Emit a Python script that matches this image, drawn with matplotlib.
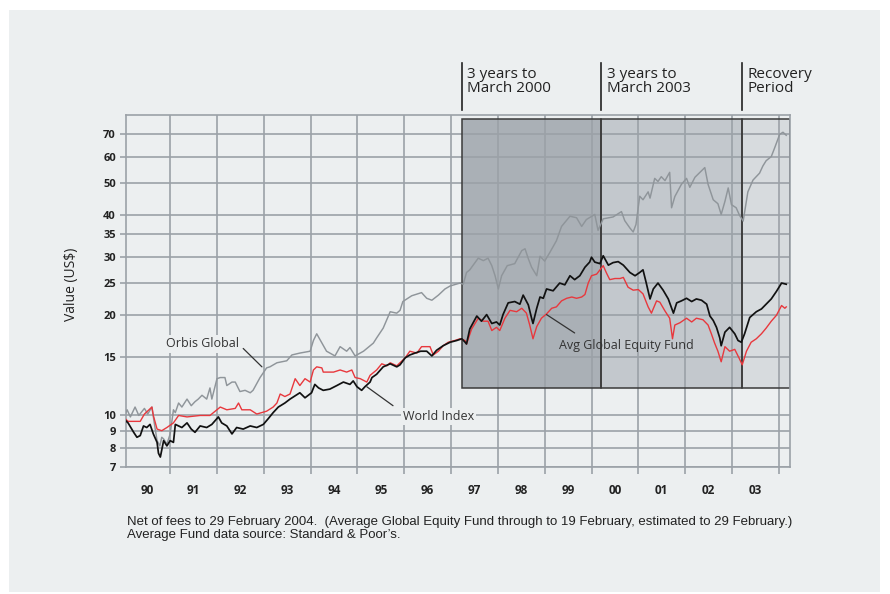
#!/usr/bin/env python3

import matplotlib
matplotlib.use("Agg")
import matplotlib.pyplot as plt
from matplotlib.patches import Rectangle
from matplotlib import font_manager
from matplotlib.ticker import FixedLocator, NullLocator

# values (decimal year, value in US$)
orbis = [
    (1990.00, 9.8), (1990.08, 10.4), (1990.15, 9.9), (1990.25, 10.6), (1990.33, 10.0),
    (1990.45, 10.5), (1990.52, 10.1), (1990.61, 10.6), (1990.66, 9.5), (1990.72, 8.4),
    (1990.78, 8.1), (1990.82, 8.6), (1990.86, 8.5), (1990.93, 8.2), (1991.00, 8.8),
    (1991.07, 10.4), (1991.11, 10.2), (1991.18, 10.9), (1991.25, 10.6), (1991.36, 11.2),
    (1991.45, 10.7), (1991.53, 11.0), (1991.60, 11.2), (1991.68, 11.5), (1991.78, 11.2),
    (1991.85, 12.1), (1991.89, 11.2), (1992.00, 12.9), (1992.07, 13.0), (1992.17, 13.0),
    (1992.21, 12.3), (1992.32, 12.6), (1992.39, 12.6), (1992.49, 11.8), (1992.60, 11.9),
    (1992.71, 11.7), (1992.77, 11.9), (1992.92, 13.0), (1993.06, 13.9), (1993.13, 14.0),
    (1993.28, 14.4), (1993.49, 14.6), (1993.60, 15.2), (1993.77, 15.4), (1993.99, 15.6),
    (1994.06, 16.8), (1994.13, 17.6), (1994.20, 16.9), (1994.34, 15.6), (1994.52, 15.1),
    (1994.63, 16.1), (1994.77, 15.6), (1994.84, 16.0), (1994.95, 15.1), (1995.13, 15.6),
    (1995.34, 16.5), (1995.41, 17.1), (1995.55, 18.3), (1995.70, 20.5), (1995.84, 20.3),
    (1995.91, 20.7), (1995.97, 22.0), (1996.16, 22.9), (1996.37, 23.4), (1996.48, 22.5),
    (1996.59, 22.2), (1996.73, 23.0), (1996.87, 24.0), (1996.98, 24.5), (1997.19, 25.0),
    (1997.26, 24.8), (1997.33, 26.9), (1997.40, 27.4), (1997.58, 29.7), (1997.69, 29.2),
    (1997.79, 29.7), (1997.87, 28.2), (1997.94, 26.3), (1998.01, 24.0), (1998.08, 26.3),
    (1998.20, 28.2), (1998.36, 28.6), (1998.51, 31.3), (1998.58, 31.7), (1998.65, 29.6),
    (1998.72, 27.9), (1998.83, 26.3), (1998.90, 30.1), (1999.00, 29.1), (1999.11, 30.9),
    (1999.25, 33.5), (1999.36, 37.0), (1999.54, 39.7), (1999.68, 39.3), (1999.79, 37.0),
    (1999.89, 38.8), (2000.07, 40.2), (2000.14, 36.0), (2000.25, 39.0), (2000.46, 39.5),
    (2000.64, 41.0), (2000.71, 38.5), (2000.82, 36.6), (2000.89, 35.6), (2000.95, 37.5),
    (2001.03, 45.6), (2001.10, 44.5), (2001.21, 47.0), (2001.25, 45.0), (2001.35, 51.6),
    (2001.42, 50.5), (2001.49, 52.2), (2001.57, 50.8), (2001.67, 53.8), (2001.71, 42.1),
    (2001.78, 45.5), (2001.92, 49.5), (2002.03, 51.6), (2002.10, 48.5), (2002.21, 52.0),
    (2002.35, 54.4), (2002.42, 55.6), (2002.49, 49.5), (2002.60, 44.5), (2002.70, 43.3),
    (2002.77, 40.2), (2002.85, 44.0), (2002.92, 48.3), (2002.99, 43.0), (2003.09, 42.1),
    (2003.16, 40.0), (2003.24, 38.4), (2003.34, 47.0), (2003.45, 51.0), (2003.59, 53.5),
    (2003.66, 56.2), (2003.73, 58.3), (2003.84, 60.0), (2003.91, 63.6), (2004.02, 70.0),
    (2004.09, 71.0), (2004.16, 69.5),
]

world = [
    (1990.00, 9.8), (1990.10, 9.5), (1990.22, 8.9), (1990.29, 8.6), (1990.36, 8.7),
    (1990.43, 9.3), (1990.50, 9.2), (1990.57, 9.4), (1990.64, 8.8), (1990.72, 8.3),
    (1990.75, 7.7), (1990.79, 7.5), (1990.86, 8.4), (1990.93, 8.1), (1991.00, 8.4),
    (1991.07, 8.3), (1991.11, 9.4), (1991.18, 9.3), (1991.25, 9.2), (1991.36, 9.5),
    (1991.45, 9.1), (1991.53, 8.9), (1991.64, 9.3), (1991.78, 9.2), (1991.89, 9.4),
    (1992.03, 9.9), (1992.10, 9.5), (1992.21, 9.3), (1992.32, 8.8), (1992.42, 9.2),
    (1992.56, 9.1), (1992.71, 9.3), (1992.85, 9.2), (1992.99, 9.4), (1993.10, 9.8),
    (1993.20, 10.2), (1993.31, 10.6), (1993.45, 10.9), (1993.56, 11.2), (1993.77, 11.7),
    (1993.88, 11.3), (1994.02, 11.7), (1994.09, 12.4), (1994.17, 12.1), (1994.27, 11.9),
    (1994.41, 12.0), (1994.56, 12.3), (1994.70, 12.6), (1994.84, 12.4), (1994.91, 12.7),
    (1994.99, 12.2), (1995.09, 11.9), (1995.16, 12.2), (1995.27, 12.6), (1995.31, 13.0),
    (1995.41, 13.3), (1995.55, 14.0), (1995.70, 14.3), (1995.84, 14.0), (1995.91, 14.2),
    (1996.02, 14.9), (1996.12, 15.2), (1996.23, 15.4), (1996.35, 15.6), (1996.48, 15.6),
    (1996.59, 15.1), (1996.69, 15.7), (1996.83, 16.2), (1996.98, 16.6), (1997.12, 16.8),
    (1997.23, 17.0), (1997.30, 16.6), (1997.33, 16.4), (1997.40, 18.2), (1997.55, 19.9),
    (1997.65, 19.2), (1997.76, 20.1), (1997.87, 18.9), (1997.97, 19.1), (1998.04, 18.7),
    (1998.11, 20.1), (1998.22, 21.8), (1998.36, 22.0), (1998.47, 21.6), (1998.54, 23.0),
    (1998.65, 21.5), (1998.72, 19.6), (1998.75, 18.9), (1998.83, 21.0), (1998.90, 22.7),
    (1998.97, 22.5), (1999.04, 24.0), (1999.18, 23.7), (1999.32, 25.0), (1999.43, 24.7),
    (1999.54, 26.3), (1999.64, 25.6), (1999.75, 26.3), (1999.86, 27.9), (1999.96, 28.9),
    (2000.00, 29.9), (2000.07, 28.9), (2000.18, 28.6), (2000.25, 30.2), (2000.36, 28.3),
    (2000.46, 28.8), (2000.57, 29.0), (2000.68, 28.3), (2000.82, 26.9), (2000.93, 26.3),
    (2001.03, 26.9), (2001.10, 27.4), (2001.17, 25.0), (2001.25, 22.4), (2001.32, 24.0),
    (2001.42, 25.0), (2001.53, 23.8), (2001.64, 22.4), (2001.75, 20.3), (2001.82, 21.8),
    (2001.92, 22.1), (2002.03, 22.5), (2002.14, 22.0), (2002.24, 22.4), (2002.35, 22.2),
    (2002.46, 21.6), (2002.53, 19.9), (2002.60, 19.3), (2002.67, 18.4), (2002.74, 17.1),
    (2002.77, 16.2), (2002.85, 17.8), (2002.95, 18.4), (2003.06, 17.6), (2003.13, 16.8),
    (2003.20, 16.6), (2003.27, 17.6), (2003.38, 19.7), (2003.52, 20.5), (2003.63, 20.9),
    (2003.73, 21.6), (2003.84, 22.4), (2003.95, 23.6), (2004.06, 25.0), (2004.16, 24.8),
]

avg_fund = [
    (1990.00, 9.9), (1990.10, 9.6), (1990.22, 9.6), (1990.36, 9.6), (1990.45, 10.1),
    (1990.61, 10.6), (1990.64, 10.0), (1990.72, 9.1), (1990.82, 9.0), (1990.93, 9.2),
    (1991.07, 9.5), (1991.18, 10.0), (1991.36, 9.9), (1991.64, 10.0), (1991.85, 10.0),
    (1992.00, 10.4), (1992.07, 10.6), (1992.21, 10.4), (1992.39, 10.5), (1992.46, 10.9),
    (1992.53, 10.4), (1992.71, 10.4), (1992.85, 10.1), (1993.06, 10.3), (1993.20, 10.6),
    (1993.28, 10.9), (1993.35, 11.6), (1993.45, 11.4), (1993.56, 11.6), (1993.67, 12.9),
    (1993.77, 12.3), (1993.88, 12.9), (1993.99, 12.6), (1994.06, 13.7), (1994.13, 14.0),
    (1994.24, 13.9), (1994.27, 13.5), (1994.49, 13.5), (1994.63, 13.7), (1994.77, 13.5),
    (1994.88, 13.7), (1994.95, 13.0), (1995.06, 12.9), (1995.20, 12.6), (1995.27, 13.2),
    (1995.41, 13.7), (1995.52, 14.3), (1995.63, 14.1), (1995.70, 14.4), (1995.84, 14.1),
    (1996.02, 14.9), (1996.12, 15.6), (1996.27, 15.4), (1996.37, 16.1), (1996.55, 16.1),
    (1996.62, 15.2), (1996.73, 15.6), (1996.83, 16.2), (1996.94, 16.6), (1997.08, 16.8),
    (1997.19, 17.0), (1997.30, 16.8), (1997.33, 16.4), (1997.44, 18.2), (1997.58, 19.6),
    (1997.69, 19.2), (1997.79, 19.2), (1997.87, 18.0), (1997.97, 18.4), (1998.04, 18.0),
    (1998.15, 19.6), (1998.26, 20.7), (1998.40, 20.5), (1998.51, 21.0), (1998.61, 20.3),
    (1998.68, 18.7), (1998.75, 17.0), (1998.83, 18.5), (1998.93, 19.6), (1999.04, 20.2),
    (1999.15, 21.0), (1999.25, 21.2), (1999.36, 22.1), (1999.47, 22.5), (1999.58, 22.7),
    (1999.68, 22.5), (1999.79, 22.7), (1999.86, 23.1), (1999.93, 25.0), (2000.00, 26.3),
    (2000.11, 26.6), (2000.25, 28.2), (2000.32, 26.8), (2000.39, 25.6), (2000.50, 25.8),
    (2000.61, 25.8), (2000.68, 26.0), (2000.78, 24.3), (2000.89, 23.8), (2001.00, 23.9),
    (2001.10, 23.2), (2001.21, 21.2), (2001.28, 20.3), (2001.39, 22.1), (2001.46, 21.9),
    (2001.57, 20.6), (2001.67, 19.6), (2001.73, 17.0), (2001.78, 18.7), (2001.89, 19.0),
    (2002.03, 19.6), (2002.14, 19.1), (2002.24, 19.6), (2002.38, 19.4), (2002.49, 18.7),
    (2002.56, 17.6), (2002.63, 16.5), (2002.70, 15.6), (2002.77, 14.5), (2002.85, 16.1),
    (2002.95, 15.6), (2003.06, 15.8), (2003.15, 14.9), (2003.22, 14.2), (2003.31, 15.6),
    (2003.41, 16.6), (2003.52, 17.0), (2003.63, 17.6), (2003.73, 18.3), (2003.84, 19.2),
    (2003.95, 20.0), (2004.06, 21.4), (2004.13, 21.0), (2004.16, 21.2),
]

y_ticks = [7, 8, 9, 10, 15, 20, 25, 30, 35, 40, 50, 60, 70]
years = list(range(1990, 2004))
year_labels = ["90", "91", "92", "93", "94", "95", "96", "97", "98", "99",
               "00", "01", "02", "03"]
period_edges = [1997.23, 2000.21, 2003.22, 2004.25]
period_labels = ["3 years to\nMarch 2000", "3 years to\nMarch 2003", "Recovery\nPeriod"]

BG = "#eceff0"
GRID = "#9ba1a7"
period_fill = ["#aab0b6", "#c3c8cd", "#d7dbde"]

installed = {f.name for f in font_manager.fontManager.ttflist}
main_font = "Open Sans" if "Open Sans" in installed else "DejaVu Sans"
note_font = "Liberation Sans Narrow" if "Liberation Sans Narrow" in installed else "Liberation Sans"
plt.rcParams["font.family"] = [main_font, "DejaVu Sans"]

fig = plt.figure(figsize=(8.9, 5.94), dpi=100)
fig.patch.set_facecolor("white")
fig.patches.append(Rectangle((9 / 890, 1 - 592 / 594), 871 / 890, 582 / 594,
                             transform=fig.transFigure, facecolor=BG,
                             edgecolor="none", zorder=-10))

ax = fig.add_axes([125.7 / 890, 1 - 467 / 594, (790 - 125.7) / 890, (467 - 115) / 594])
ax.set_facecolor(BG)
ax.set_yscale("log")
ax.set_xlim(1990.05, 2004.24)
ax.set_ylim(7, 80)

# shaded periods
shade_lo, shade_hi = 12.1, 78
for i, col in enumerate(period_fill):
    x0, x1 = period_edges[i], period_edges[i + 1]
    ax.add_patch(Rectangle((x0, shade_lo), x1 - x0, shade_hi - shade_lo,
                           facecolor=col, edgecolor="none", zorder=0.2))
    ax.add_patch(Rectangle((x0, shade_lo), x1 - x0, shade_hi - shade_lo,
                           facecolor="none", edgecolor="#3a3a3a", lw=1.1, zorder=1.8))

# grid
ax.set_axisbelow("line")
ax.yaxis.set_major_locator(FixedLocator(y_ticks))
ax.yaxis.set_minor_locator(NullLocator())
ax.set_yticklabels([str(v) for v in y_ticks])
ax.xaxis.set_major_locator(FixedLocator(years + [2004]))
ax.xaxis.set_minor_locator(FixedLocator([y + 0.5 for y in years]))
ax.xaxis.set_major_formatter(plt.NullFormatter())
ax.set_xticklabels(year_labels, minor=True)
ax.grid(True, which="major", color=GRID, lw=1.2)

ax.tick_params(axis="y", which="major", length=4, width=1.2, color=GRID,
               labelsize=8, labelcolor="#222222", pad=3)
ax.tick_params(axis="x", which="major", length=5, width=1.2, color=GRID)
ax.tick_params(axis="x", which="minor", length=0, labelsize=8.5,
               labelcolor="#222222", pad=12)
for lab in ax.get_yticklabels() + ax.get_xticklabels(minor=True):
    lab.set_fontweight("bold")
for sp in ax.spines.values():
    sp.set_color(GRID)
    sp.set_linewidth(1.2)

# series
for data, col, lw in [(orbis, "#8f959a", 1.05), (avg_fund, "#e8383d", 1.0),
                      (world, "#111111", 1.25)]:
    t, v = zip(*data)
    ax.plot(t, v, color=col, lw=lw, zorder=3)

# period markers above the plot
trans = ax.get_xaxis_transform()
for x0, lab in zip(period_edges[:-1], period_labels):
    ax.plot([x0, x0], [1.0142, 1.1477], transform=trans, color="#222222",
            lw=1.2, clip_on=False)
    ax.annotate(lab, xy=(x0, 1.137), xycoords=trans, xytext=(4, 0),
                textcoords="offset points", ha="left", va="top",
                fontsize=11, color="#222222", linespacing=0.95)

# labels with leader lines
ax.text(1990.91, 16.4, "Orbis Global", fontsize=9, color="#333333", va="center",
        zorder=4, bbox=dict(facecolor=BG, edgecolor="none", pad=1.5))
ax.annotate("", xy=(1992.96, 14.0), xytext=(1992.56, 15.9),
            arrowprops=dict(arrowstyle="-", lw=0.9, color="#333333",
                            shrinkA=0, shrinkB=0), zorder=4)
ax.text(1995.97, 9.95, "World Index", fontsize=9, color="#333333", va="center",
        zorder=4, bbox=dict(facecolor=BG, edgecolor="none", pad=1.5))
ax.annotate("", xy=(1995.76, 10.7), xytext=(1995.20, 12.2),
            arrowprops=dict(arrowstyle="-", lw=0.9, color="#333333",
                            shrinkA=0, shrinkB=0), zorder=4)
ax.text(1999.30, 16.2, "Avg Global Equity Fund", fontsize=9, color="#333333",
        va="center", zorder=4)
ax.annotate("", xy=(1999.64, 17.7), xytext=(1999.04, 20.1),
            arrowprops=dict(arrowstyle="-", lw=0.9, color="#333333",
                            shrinkA=0, shrinkB=0), zorder=4)

fig.text(72 / 890, 1 - 284 / 594, "Value (US$)", rotation=90, ha="center",
         va="center", fontsize=10, color="#222222")

fig.text(127 / 890, 1 - 516 / 594,
         "Net of fees to 29 February 2004.  (Average Global Equity Fund through to "
         "19 February, estimated to 29 February.)\nAverage Fund data source: "
         "Standard & Poor\u2019s.",
         family=[note_font, "DejaVu Sans"], fontsize=9.5, color="#222222",
         va="top", linespacing=1.1)

fig.savefig("out.png", dpi=100, facecolor=fig.get_facecolor())
